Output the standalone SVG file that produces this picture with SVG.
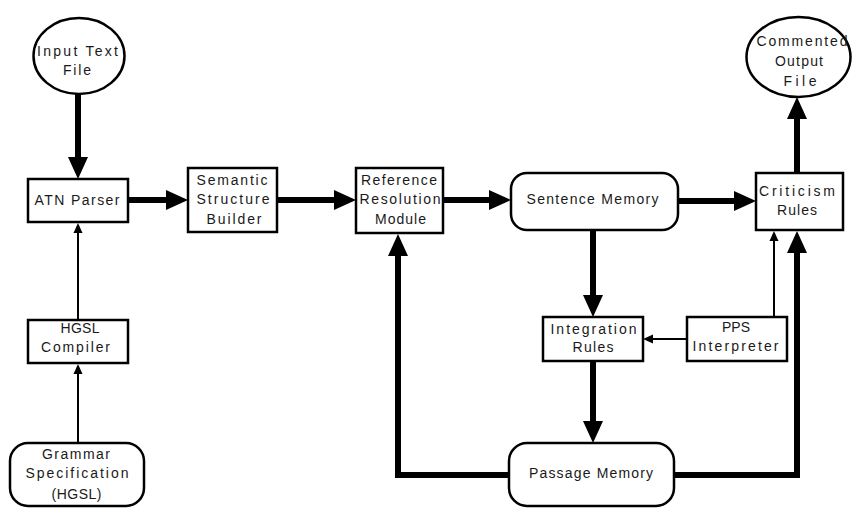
<svg xmlns="http://www.w3.org/2000/svg" width="853" height="508" viewBox="0 0 853 508">
<style>
  .box { fill: #fff; stroke: #000; stroke-width: 2.5; }
  text { font-family: "Liberation Sans", Arial, sans-serif; font-size: 14px; fill: #1a1a1a; text-anchor: middle; }
  .thick { fill: none; stroke: #000; stroke-width: 6; stroke-linejoin: miter; marker-end: url(#ah); }
  .thin { fill: none; stroke: #000; stroke-width: 2; marker-end: url(#as); }
</style>
<defs>
  <marker id="ah" markerUnits="userSpaceOnUse" markerWidth="23" markerHeight="21" refX="0" refY="10" orient="auto" overflow="visible">
    <path d="M0,0 L22,10 L0,20 z" fill="#000"/>
  </marker>
  <marker id="as" markerUnits="userSpaceOnUse" markerWidth="11" markerHeight="10" refX="0" refY="4.5" orient="auto" overflow="visible">
    <path d="M0,0 L10,4.5 L0,9 z" fill="#000"/>
  </marker>
</defs>
<rect width="853" height="508" fill="#fff"/>
<g id="connectors">
  <path class="thick" d="M78,94 V157"/>
  <path class="thick" d="M128,200 H166"/>
  <path class="thick" d="M277,200 H334"/>
  <path class="thick" d="M443,200 H489"/>
  <path class="thick" d="M678,201 H734"/>
  <path class="thick" d="M797,173 V119"/>
  <path class="thick" d="M593,230 V295"/>
  <path class="thick" d="M593,361 V421"/>
  <path class="thin" d="M687,339 H653"/>
  <path class="thin" d="M774,317 V241"/>
  <path class="thick" d="M674,475 H797 V253"/>
  <path class="thick" d="M509,475 H398 V256"/>
  <path class="thin" d="M78,320 V233"/>
  <path class="thin" d="M78,443 V374"/>
</g>
<g id="input-text-file">
  <ellipse class="box" cx="79" cy="56" rx="45.5" ry="38"/>
  <text x="77.5" y="56" textLength="81" lengthAdjust="spacing">Input Text</text>
  <text x="77" y="75" textLength="28" lengthAdjust="spacing">File</text>
</g>
<g id="commented-output-file">
  <ellipse class="box" cx="798.5" cy="57" rx="52" ry="40"/>
  <text x="802" y="46" textLength="91" lengthAdjust="spacing">Commented</text>
  <text x="799" y="66" textLength="48" lengthAdjust="spacing">Output</text>
  <text x="800" y="86" textLength="33" lengthAdjust="spacing">File</text>
</g>
<g id="atn-parser">
  <rect class="box" x="28" y="179" width="100" height="43"/>
  <text x="77" y="205" textLength="85" lengthAdjust="spacing">ATN Parser</text>
</g>
<g id="semantic-structure-builder">
  <rect class="box" x="188" y="168" width="89" height="64"/>
  <text x="232" y="185" textLength="71" lengthAdjust="spacing">Semantic</text>
  <text x="233" y="204" textLength="73" lengthAdjust="spacing">Structure</text>
  <text x="234" y="224" textLength="55" lengthAdjust="spacing">Builder</text>
</g>
<g id="reference-resolution-module">
  <rect class="box" x="356" y="168" width="87" height="65"/>
  <text x="399" y="185" textLength="76" lengthAdjust="spacing">Reference</text>
  <text x="400" y="204" textLength="81" lengthAdjust="spacing">Resolution</text>
  <text x="400.5" y="224" textLength="51" lengthAdjust="spacing">Module</text>
</g>
<g id="sentence-memory">
  <rect class="box" x="511" y="173" width="167" height="57" rx="16" ry="16"/>
  <text x="592.5" y="204" textLength="132" lengthAdjust="spacing">Sentence Memory</text>
</g>
<g id="criticism-rules">
  <rect class="box" x="756" y="173" width="87" height="57"/>
  <text x="797" y="196" textLength="76" lengthAdjust="spacing">Criticism</text>
  <text x="797" y="215" textLength="40" lengthAdjust="spacing">Rules</text>
</g>
<g id="integration-rules">
  <rect class="box" x="543" y="317" width="100" height="44"/>
  <text x="593.5" y="334" textLength="86" lengthAdjust="spacing">Integration</text>
  <text x="593" y="352" textLength="41" lengthAdjust="spacing">Rules</text>
</g>
<g id="pps-interpreter">
  <rect class="box" x="687" y="317" width="100" height="44"/>
  <text x="736" y="332" textLength="28" lengthAdjust="spacing">PPS</text>
  <text x="735.5" y="351" textLength="86" lengthAdjust="spacing">Interpreter</text>
</g>
<g id="passage-memory">
  <rect class="box" x="509" y="443" width="165" height="63" rx="18" ry="18"/>
  <text x="591" y="478" textLength="124" lengthAdjust="spacing">Passage Memory</text>
</g>
<g id="hgsl-compiler">
  <rect class="box" x="28" y="320" width="100" height="43"/>
  <text x="80" y="333" textLength="39" lengthAdjust="spacing">HGSL</text>
  <text x="75.5" y="352" textLength="69" lengthAdjust="spacing">Compiler</text>
</g>
<g id="grammar-specification">
  <rect class="box" x="10" y="443" width="134" height="63" rx="18" ry="18"/>
  <text x="76" y="459" textLength="68" lengthAdjust="spacing">Grammar</text>
  <text x="77" y="478" textLength="103" lengthAdjust="spacing">Specification</text>
  <text x="76.5" y="499" textLength="50" lengthAdjust="spacing">(HGSL)</text>
</g>
</svg>
